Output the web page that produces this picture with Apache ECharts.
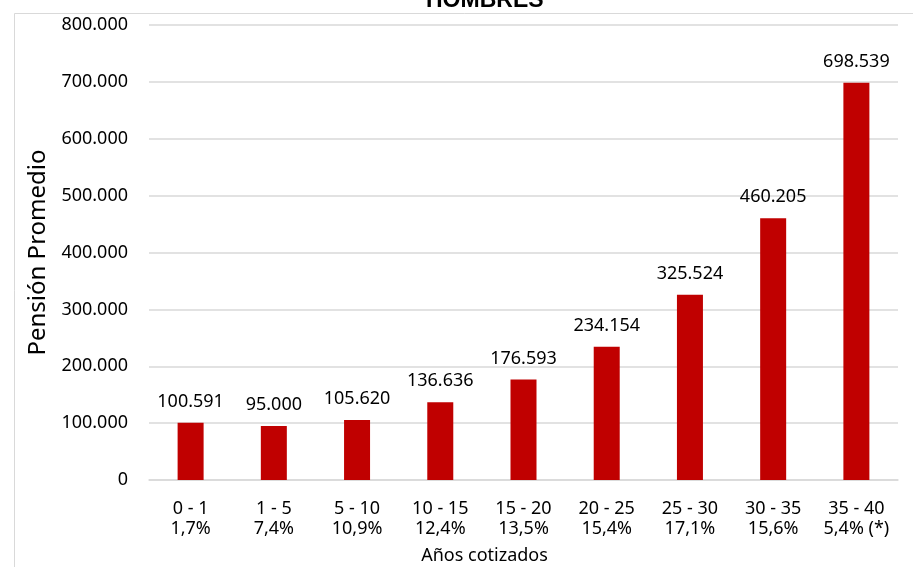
<!DOCTYPE html>
<html>
<head>
<meta charset="utf-8">
<script src="https://cdn.jsdelivr.net/npm/echarts@6/dist/echarts.min.js"></script>
<style>
  html, body { margin: 0; padding: 0; background: #fff; }
  #chart { width: 913px; height: 567px; }
</style>
</head>
<body>
<div id="chart"></div>
<script>
// Tramos de años cotizados y su participación
const tramos = ['0 - 1', '1 - 5', '5 - 10', '10 - 15', '15 - 20', '20 - 25', '25 - 30', '30 - 35', '35 - 40'];
const participacion = ['1,7%', '7,4%', '10,9%', '12,4%', '13,5%', '15,4%', '17,1%', '15,6%', '5,4% (*)'];
// Pensión promedio por tramo
const pension = [100591, 95000, 105620, 136636, 176593, 234154, 325524, 460205, 698539];
// Escala del eje vertical
const yMin = 0, yMax = 800000, yStep = 100000;

const fmt = v => Math.round(v).toString().replace(/\B(?=(\d{3})+(?!\d))/g, '.');
const categorias = tramos.map((t, i) => t + '\n' + participacion[i]);
const FONT = 'Noto Sans';

const chart = echarts.init(document.getElementById('chart'));
chart.setOption({
  animation: false,
  backgroundColor: '#ffffff',
  title: {
    text: 'HOMBRES',
    left: 421,
    top: -16,
    textStyle: { fontFamily: 'Liberation Sans', fontWeight: 'bold', fontSize: 23, color: '#000' }
  },
  graphic: [{
    type: 'rect',
    shape: { x: 14.5, y: 13.5, width: 1000, height: 1000 },
    style: { fill: 'none', stroke: '#d9d9d9', lineWidth: 1 },
    silent: true
  }],
  grid: { left: 149, right: 15, top: 25, bottom: 87, outerBoundsMode: 'none' },
  xAxis: {
    type: 'category',
    data: categorias,
    axisLine: { lineStyle: { color: '#d9d9d9', width: 1.5 } },
    axisTick: { show: false },
    axisLabel: {
      fontFamily: FONT, fontSize: 18, color: '#000', lineHeight: 20, margin: 19,
      interval: 0
    },
    name: 'Años cotizados',
    nameLocation: 'middle',
    nameGap: 67,
    nameTextStyle: { fontFamily: FONT, fontSize: 18, color: '#000', padding: [0, 78, 0, 0] }
  },
  yAxis: {
    type: 'value',
    min: yMin, max: yMax, interval: yStep,
    axisLine: { show: false },
    axisTick: { show: false },
    splitLine: { lineStyle: { color: '#d9d9d9', width: 1.5 } },
    axisLabel: {
      fontFamily: FONT, fontSize: 18, color: '#000', margin: 21,
      formatter: v => fmt(v)
    },
    name: 'Pensión Promedio',
    nameLocation: 'middle',
    nameGap: 96,
    nameRotate: 90,
    nameTextStyle: { fontFamily: FONT, fontSize: 24, color: '#000' }
  },
  series: [{
    type: 'bar',
    data: pension,
    barWidth: 26,
    itemStyle: { color: '#C00000' },
    label: {
      show: true,
      position: 'top',
      distance: 12,
      fontFamily: FONT, fontSize: 18, color: '#000',
      formatter: p => fmt(p.value)
    }
  }]
});
</script>
</body>
</html>
